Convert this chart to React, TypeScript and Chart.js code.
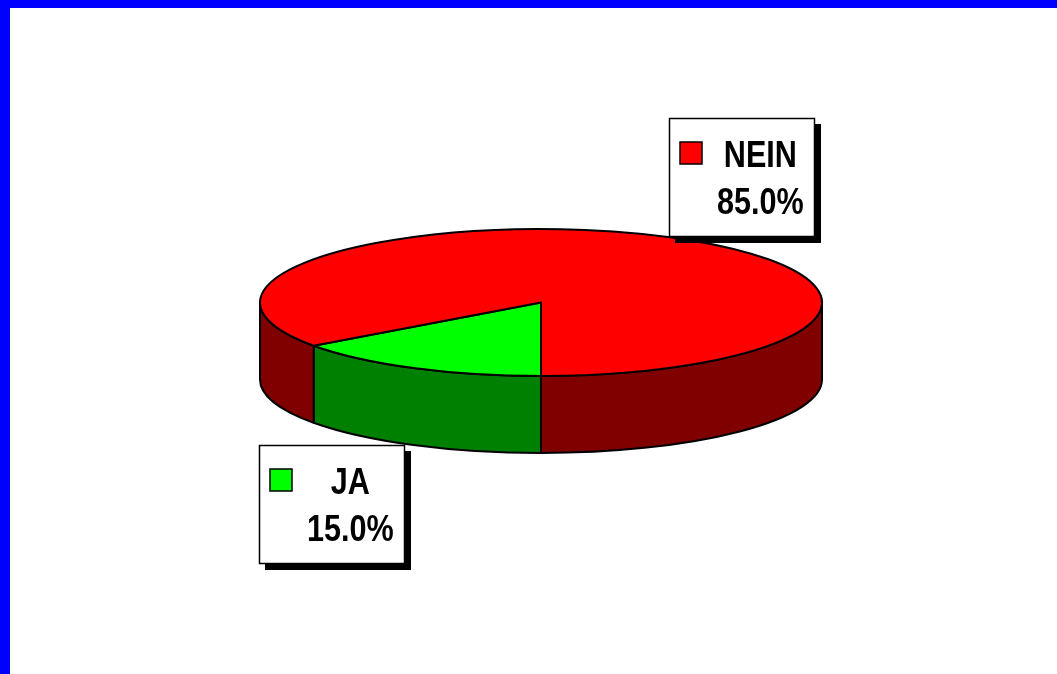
import React, { useEffect, useRef } from 'react';
import { Chart, registerables } from 'chart.js';

Chart.register(...registerables);

// ---- data ----
const categories = ['JA', 'NEIN'];
const values = [15, 85];
const topColors = ['#00FF00', '#FF0000'];
const sideColors = ['#008000', '#800000'];

const TWO_PI = Math.PI * 2;

const pie3d = {
  id: 'pie3d',
  beforeDatasetsDraw(chart: any, _args: any, opts: any) {
    const ctx: CanvasRenderingContext2D = chart.ctx;
    const meta = chart.getDatasetMeta(0);
    const tilt = opts.tilt;
    const depth = opts.depth;
    ctx.save();
    ctx.lineWidth = opts.lineWidth;
    ctx.strokeStyle = '#000000';
    ctx.lineJoin = 'round';
    const arcs = meta.data.map((arc: any) =>
      arc.getProps(['x', 'y', 'startAngle', 'endAngle', 'outerRadius'], true)
    );
    // side walls (front half only)
    arcs.forEach((p: any, i: number) => {
      const rx = p.outerRadius;
      const ry = p.outerRadius * tilt;
      let s = p.startAngle % TWO_PI;
      if (s < 0) s += TWO_PI;
      const e = s + (p.endAngle - p.startAngle);
      for (const base of [0, TWO_PI]) {
        const a = Math.max(s, base);
        const b = Math.min(e, base + Math.PI);
        if (b > a) {
          ctx.beginPath();
          ctx.ellipse(p.x, p.y, rx, ry, 0, a, b, false);
          ctx.ellipse(p.x, p.y + depth, rx, ry, 0, b, a, true);
          ctx.closePath();
          ctx.fillStyle = opts.sideColors[i];
          ctx.fill();
          ctx.stroke();
        }
      }
    });
    // top faces
    arcs.forEach((p: any, i: number) => {
      const rx = p.outerRadius;
      const ry = p.outerRadius * tilt;
      ctx.beginPath();
      ctx.moveTo(p.x, p.y);
      ctx.ellipse(p.x, p.y, rx, ry, 0, p.startAngle, p.endAngle, false);
      ctx.closePath();
      ctx.fillStyle = meta.data[i].options.backgroundColor;
      ctx.fill();
      ctx.stroke();
    });
    ctx.restore();
    return false;
  },
  afterDraw(chart: any, _args: any, opts: any) {
    const ctx: CanvasRenderingContext2D = chart.ctx;
    const meta = chart.getDatasetMeta(0);
    const data: number[] = chart.data.datasets[0].data;
    const total = data.reduce((a, b) => a + b, 0);
    const tilt = opts.tilt;
    const depth = opts.depth;
    const fontSize = 36;
    const squeeze = 0.85;
    ctx.save();
    ctx.font = `bold ${fontSize}px "Liberation Sans", Arial, sans-serif`;
    meta.data.forEach((arc: any, i: number) => {
      const p = arc.getProps(['x', 'y', 'startAngle', 'endAngle', 'outerRadius'], true);
      const mid = (p.startAngle + p.endAngle) / 2;
      const rx = p.outerRadius;
      const ry = p.outerRadius * tilt;
      const px = p.x + rx * Math.cos(mid);
      const py = p.y + ry * Math.sin(mid);
      const name = chart.data.labels[i];
      const pct = ((data[i] / total) * 100).toFixed(1) + '%';
      const tw = Math.max(ctx.measureText(name).width, ctx.measureText(pct).width) * squeeze;
      const boxW = Math.round(10 + 22 + 14 + tw + 13);
      const boxH = 119;
      const left = Math.round(Math.cos(mid) >= 0 ? px : px - boxW - 8);
      const top = Math.round(Math.sin(mid) < 0 ? py - boxH : py + depth);
      // shadow
      ctx.fillStyle = '#000000';
      ctx.fillRect(left + 6, top + 6, boxW, boxH);
      // box
      ctx.fillStyle = '#FFFFFF';
      ctx.fillRect(left, top, boxW, boxH);
      ctx.lineWidth = 1.5;
      ctx.strokeStyle = '#000000';
      ctx.strokeRect(left + 0.5, top + 0.5, boxW - 1, boxH - 1);
      // key
      ctx.fillStyle = meta.data[i].options.backgroundColor;
      ctx.fillRect(left + 11, top + 24, 22, 22);
      ctx.lineWidth = 1.5;
      ctx.strokeRect(left + 11, top + 24, 22, 22);
      // texts
      ctx.fillStyle = '#000000';
      ctx.textAlign = 'center';
      ctx.textBaseline = 'alphabetic';
      const tx = left + 10 + 22 + 14 + tw / 2 + 2;
      [[name, top + 49], [pct, top + 96]].forEach(([t, by]: any) => {
        ctx.save();
        ctx.translate(tx, by);
        ctx.scale(squeeze, 1);
        ctx.fillText(t, 0, 0);
        ctx.restore();
      });
    });
    ctx.restore();
  },
};

export default function App() {
  const ref = useRef<HTMLCanvasElement>(null);
  useEffect(() => {
    if (!ref.current) return;
    const chart = new Chart(ref.current, {
      type: 'pie',
      data: {
        labels: categories,
        datasets: [
          {
            data: values,
            backgroundColor: topColors,
            borderWidth: 0,
          },
        ],
      },
      options: {
        responsive: false,
        animation: false,
        events: [],
        rotation: 180,
        radius: 281,
        layout: { padding: { left: 15, right: 0, top: 0, bottom: 77 } },
        plugins: {
          legend: { display: false },
          tooltip: { enabled: false },
          pie3d: { tilt: 0.2616, depth: 77, lineWidth: 2, sideColors },
        } as any,
      },
      plugins: [pie3d as any],
    });
    return () => chart.destroy();
  }, []);
  return (
    <div
      style={{
        position: 'absolute',
        left: 0,
        top: 0,
        width: 1057,
        height: 674,
        boxSizing: 'border-box',
        borderTop: '8px solid #0000FF',
        borderLeft: '10px solid #0000FF',
        background: '#FFFFFF',
        overflow: 'hidden',
      }}
    >
      <canvas ref={ref} width={1047} height={666} style={{ display: 'block' }} />
    </div>
  );
}
